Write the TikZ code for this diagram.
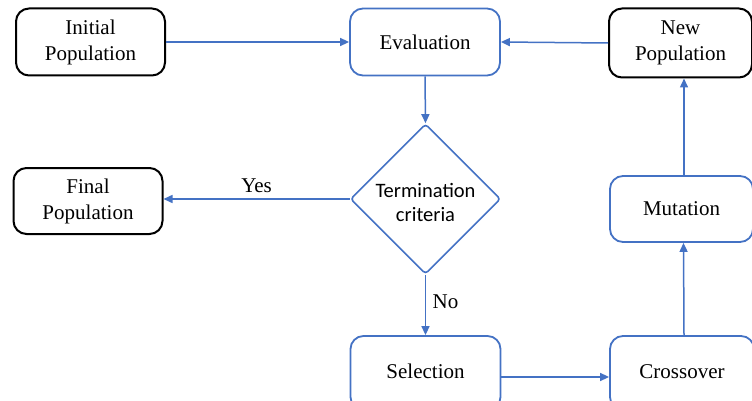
\documentclass[tikz,border=0pt]{standalone}
\usepackage{fontspec}
\setmainfont{Liberation Serif}
\newfontfamily\calib{Carlito}
\usetikzlibrary{shapes.geometric,arrows.meta}
\definecolor{flowblue}{HTML}{4472C4}

\tikzset{
  txt/.style={font=\fontsize{21}{26}\selectfont, align=center},
  darkbox/.style={txt, draw=black, line width=2pt, rounded corners=13pt,
    fill=white, minimum width=149pt, minimum height=67pt, inner sep=0pt},
  bluebox/.style={txt, draw=flowblue, line width=1.8pt, rounded corners=13pt,
    fill=white, minimum width=150pt, minimum height=67pt, inner sep=0pt},
  decision/.style={draw=flowblue, line width=1.6pt, diamond, aspect=1,
    minimum width=150pt, minimum height=150pt, inner sep=0pt,
    rounded corners=3pt, fill=white},
  decisiontext/.style={align=center, inner sep=0pt,
    font=\calib\fontsize{20.5}{24}\selectfont},
  flow/.style={draw=flowblue, line width=1.5pt,
    -{Triangle[length=9pt,width=8pt]}},
  lbl/.style={font=\fontsize{21}{24}\selectfont}
}

\begin{document}
\begin{tikzpicture}[x=1pt,y=-1pt]
  \useasboundingbox (0,0) rectangle (752,401);
  \clip (0,0) rectangle (752,401);

  % process boxes
  \node[darkbox] (init) at (90.5,42) {Initial\\Population};
  \node[bluebox] (eval) at (425,42) {Evaluation};
  \node[darkbox, minimum width=143pt, minimum height=69pt] (newpop) at (680.5,43) {New\\Population};
  \node[decision] (term) at (425.5,199) {};
  \node[decisiontext] (termtext) at (425.5,202) {Termination\\criteria};
  \node[darkbox, minimum height=66pt] (final) at (88,201) {Final\\Population};
  \node[bluebox, minimum width=143pt, minimum height=66pt] (mut) at (681.5,209) {Mutation};
  % bottom row runs past the lower edge
  \node[bluebox, minimum height=74pt] (sel) at (425.5,373) {\raisebox{3.5pt}{Selection}};
  \node[bluebox, minimum width=144pt, minimum height=74pt] (cross) at (682,373) {\raisebox{3.5pt}{Crossover}};

  % connectors
  \draw[flow] (init.east) -- (eval.west);
  \draw[flow] (newpop.west) -- (eval.east);
  \draw[flow] (eval.south) -- (term.north);
  \draw[flow] (term.west) -- (final.east |- term.west)
    node[lbl, pos=0.5, above=2pt] (yes) {Yes};
  \draw[flow] (term.south) -- (sel.north)
    node[lbl, pos=0.45, right=3pt] (no) {No};
  \draw[flow] ([yshift=-4pt]sel.east) -- ([yshift=-4pt]cross.west);
  \draw[flow] ([xshift=2pt]cross.north) -- ([xshift=2pt]mut.south);
  \draw[flow] ([xshift=2.5pt]mut.north) -- ([xshift=3.5pt]newpop.south);
\end{tikzpicture}
\end{document}
